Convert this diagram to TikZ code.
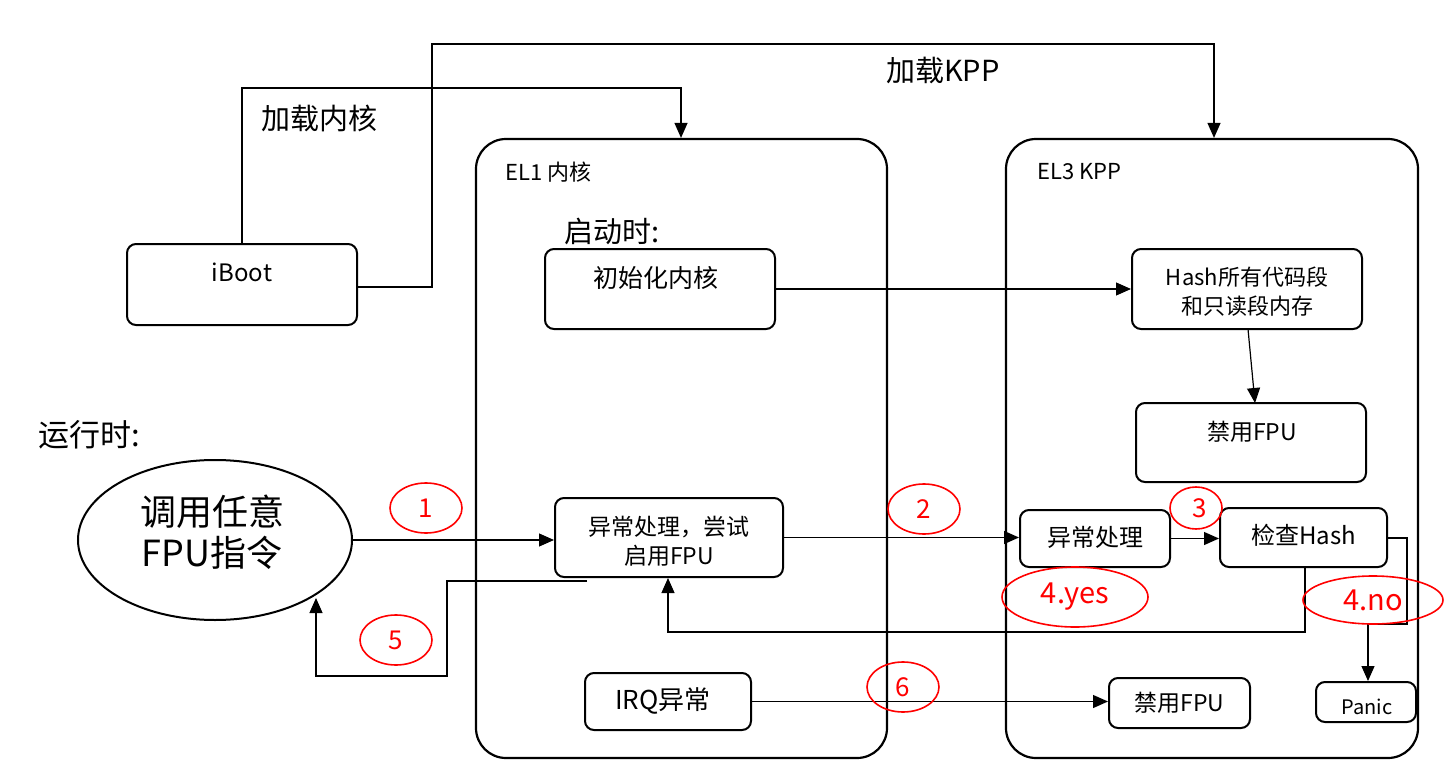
\documentclass[tikz,border=0pt]{standalone}
\usepackage{fontspec}
\setmainfont{Noto Sans CJK SC}
\usetikzlibrary{arrows.meta,shapes.geometric}
\begin{document}
\begin{tikzpicture}[x=1pt,y=-1pt,
  box/.style={draw,line width=2pt,rounded corners=9pt,inner sep=0pt},
  bigbox/.style={draw,line width=2.2pt,rounded corners=30pt,inner sep=0pt},
  conn/.style={line width=1.2pt,-{Triangle[length=15pt,width=13pt]}},
  txt/.style={inner sep=0pt,font=\fontsize{23}{29}\selectfont,align=center},
  num/.style={draw=red,line width=1.6pt,ellipse,inner sep=0pt,text=red,font=\fontsize{26}{30}\selectfont}]
\useasboundingbox (0,0) rectangle (1452,784);
% big containers
\node[bigbox,minimum width=411pt,minimum height=619pt] (el1) at (681.5,448.5) {};
\node[bigbox,minimum width=412pt,minimum height=619pt] (el3) at (1212,448.5) {};
\node[txt,anchor=west,font=\fontsize{22}{26}\selectfont] (el1t) at (505,172) {EL1 内核};
\node[txt,anchor=west,font=\fontsize{22}{26}\selectfont] (el3t) at (1037,172) {EL3 KPP};
% boxes
\node[box,minimum width=230pt,minimum height=81pt] (iboot) at (242,284.5) {};
\node[txt,font=\fontsize{24}{28}\selectfont] (ibt) at (242,272) {iBoot};
\node[txt,anchor=west,font=\fontsize{29}{34}\selectfont] (qd) at (564,231) {启动时:};
\node[box,minimum width=230pt,minimum height=80pt] (init) at (660,289) {};
\node[txt,font=\fontsize{25}{29}\selectfont] (initt) at (656,278) {初始化内核};
\node[box,minimum width=230pt,minimum height=80pt] (hash) at (1247,289) {};
\node[txt,font=\fontsize{22}{29}\selectfont] (hasht) at (1247,292) {Hash所有代码段\\和只读段内存};
\node[box,minimum width=230pt,minimum height=79pt] (dis1) at (1251,442.5) {};
\node[txt] (dis1t) at (1252,432) {禁用FPU};
\node[box,minimum width=228pt,minimum height=79pt] (exc) at (669,537.5) {};
\node[txt] (exct) at (669,541) {异常处理，尝试\\启用FPU};
\node[box,minimum width=150pt,minimum height=57pt] (exc3) at (1095,538.5) {};
\node[txt,font=\fontsize{24}{28}\selectfont] (exc3t) at (1095,537) {异常处理};
\node[box,minimum width=167pt,minimum height=59pt] (chk) at (1303.5,537.5) {};
\node[txt,font=\fontsize{24}{28}\selectfont] (chkt) at (1303.5,535) {检查Hash};
\node[box,minimum width=100pt,minimum height=40pt] (panic) at (1366,702) {};
\node[txt,font=\fontsize{20}{24}\selectfont] (panict) at (1367,707) {Panic};
\node[box,minimum width=141pt,minimum height=50pt] (dis2) at (1179.5,703) {};
\node[txt] (dis2t) at (1179.5,703) {禁用FPU};
\node[box,minimum width=166pt,minimum height=57pt] (irq) at (668,701.5) {};
\node[txt,font=\fontsize{26}{30}\selectfont] (irqt) at (663,701) {IRQ异常};
\node[draw,ellipse,line width=2pt,minimum width=274pt,minimum height=160pt,inner sep=0pt] (call) at (215,540) {};
\node[txt,font=\fontsize{36}{41}\selectfont] (callt) at (212,532) {调用任意\\FPU指令};
% free labels
\node[txt,anchor=west,font=\fontsize{29}{34}\selectfont] (lk) at (261,118) {加载内核};
\node[txt,anchor=west,font=\fontsize{29}{34}\selectfont] (lkpp) at (886,70) {加载KPP};
\node[txt,anchor=west,font=\fontsize{31}{36}\selectfont] (yx) at (38,435) {运行时:};
% coordinates
\coordinate (a1) at (242,88);
\coordinate (a2) at (681,88);
\coordinate (b0) at (357,287);
\coordinate (b1) at (432,287);
\coordinate (b2) at (432,44);
\coordinate (b3) at (1214,44);
\coordinate (c1) at (1305,632);
\coordinate (c2) at (668,632);
\coordinate (d0) at (1387,538);
\coordinate (d1) at (1407,538);
\coordinate (d2) at (1407,624);
\coordinate (d3) at (1368,624);
\coordinate (e0) at (587,581);
\coordinate (e1) at (447,581);
\coordinate (e2) at (447,676);
\coordinate (e3) at (316,676);
\coordinate (e4) at (316,598);
% connectors
\draw[conn] (iboot.north) -- (a1) -- (a2) -- (el1.north -| a2);
\draw[conn] (b0) -- (b1) -- (b2) -- (b3) -- (el3.north -| b3);
\draw[conn] (init.east) -- (hash.west |- init.east);
\draw[conn] (1248,329) -- (1255,403);
\draw[conn] (call.east) -- (exc.west |- call.east);
\draw[conn] (exc.east) -- (exc3.west |- exc.east);
\draw[conn] (exc3.east) -- (chk.west |- exc3.east);
\draw[conn] (chk.south -| c1) -- (c1) -- (c2) -- (exc.south -| c2);
\draw[conn] (d0) -- (d1) -- (d2) -- (d3) -- (panic.north -| d3);
\draw[conn] (e0) -- (e1) -- (e2) -- (e3) -- (e4);
\draw[conn] (irq.east) -- (dis2.west |- irq.east);
% red numbers
\node[num,minimum width=72pt,minimum height=50pt] (n1) at (426,508) {\raisebox{-5pt}{1}};
\node[num,minimum width=72pt,minimum height=50pt] (n2) at (924,509) {\raisebox{-5pt}{2}};
\node[num,minimum width=52pt,minimum height=42pt] (n3) at (1196,508) {\raisebox{-8pt}{\hspace{8pt}3}};
\node[num,minimum width=146pt,minimum height=60pt,font=\fontsize{29}{32}\selectfont] (n4y) at (1075,597) {\raisebox{-5pt}{4.yes}};
\node[num,minimum width=140pt,minimum height=48pt,font=\fontsize{29}{32}\selectfont] (n4n) at (1373,600) {\raisebox{-6pt}{4.no}};
\node[num,minimum width=72pt,minimum height=50pt] (n5) at (396,640) {\raisebox{-5pt}{5}};
\node[num,minimum width=72pt,minimum height=50pt] (n6) at (903,687) {\raisebox{-4pt}{6}};
\end{tikzpicture}
\end{document}
